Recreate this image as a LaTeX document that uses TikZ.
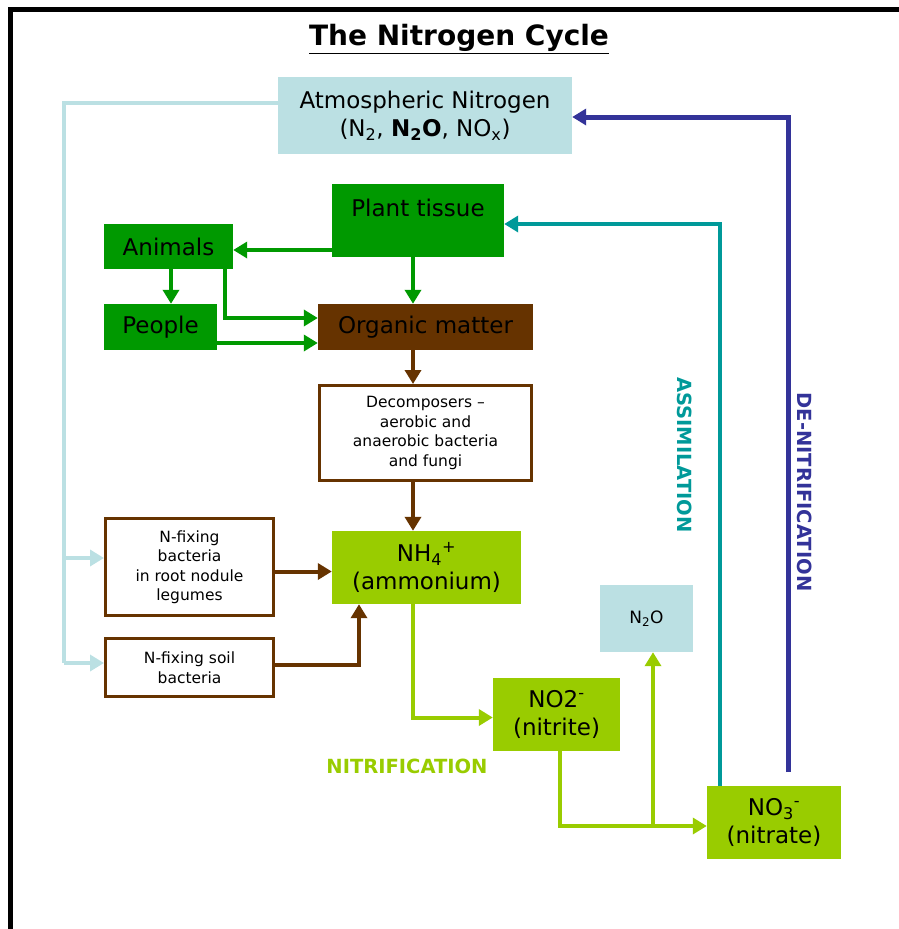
\documentclass[tikz,border=0pt]{standalone}
\usepackage{fontspec}
\setmainfont{DejaVu Sans}
\usepackage{tikz}
\usetikzlibrary{arrows.meta}

\definecolor{leaf}{HTML}{009900}
\definecolor{soil}{HTML}{663300}
\definecolor{lime}{HTML}{99CC00}
\definecolor{sky}{HTML}{BBE0E3}
\definecolor{teal}{HTML}{009999}
\definecolor{navy}{HTML}{333399}

\tikzset{
  box/.style={inner sep=0pt, align=center, font=\fontsize{23}{28.5}\selectfont},
  whitebox/.style={box, draw=soil, line width=3pt, fill=white, font=\fontsize{15.5}{19.5}\selectfont},
  link/.style={line width=4pt, -{Triangle[length=14pt,width=16pt]}},
  procname/.style={font=\bfseries\fontsize{19.5}{22}\selectfont}
}

\begin{document}
\begin{tikzpicture}[x=1pt, y=-1pt]
\useasboundingbox (0,0) rectangle (899,929);
\draw[line width=5pt] (10.5,929) -- (10.5,9.5) -- (899,9.5);
\node (title) at (459,39) {\fontsize{28}{32}\selectfont\bfseries\underline{The Nitrogen Cycle}};

% boxes
\node[box, fill=sky, minimum width=294, minimum height=77] (atm) at (425,115.5)
  {Atmospheric Nitrogen\\(N\textsubscript{2}, \textbf{N\textsubscript{2}O}, NO\textsubscript{x})};
\node[box, fill=leaf, minimum width=172, minimum height=73, text depth=25pt] (plant) at (418,220.5) {Plant tissue};
\node[box, fill=leaf, minimum width=129, minimum height=45] (animals) at (168.5,246.5) {Animals};
\node[box, fill=leaf, minimum width=113, minimum height=46] (people) at (160.5,327) {People};
\node[box, fill=soil, minimum width=215, minimum height=46] (organic) at (425.5,327) {Organic matter};
\node[whitebox, minimum width=212, minimum height=95] (decomp) at (425.5,433)
  {Decomposers --\\aerobic and\\anaerobic bacteria\\and fungi};
\node[box, fill=lime, minimum width=189, minimum height=73] (nh4) at (426.5,567.5) {NH\textsubscript{4}\textsuperscript{+}\\(ammonium)};
\node[whitebox, minimum width=168, minimum height=97] (nfixb) at (189.5,567)
  {N-fixing\\bacteria\\in root nodule\\legumes};
\node[whitebox, minimum width=168, minimum height=58] (nfixs) at (189.5,667.5) {N-fixing soil\\bacteria};
\node[box, fill=lime, minimum width=127, minimum height=73] (no2) at (556.5,714.5) {NO2\textsuperscript{-}\\(nitrite)};
\node[box, fill=sky, minimum width=93, minimum height=67, font=\fontsize{17}{20}\selectfont] (n2o) at (646.5,618.5) {N\textsubscript{2}O};
\node[box, fill=lime, minimum width=134, minimum height=73] (no3) at (774,822.5) {NO\textsubscript{3}\textsuperscript{-}\\(nitrate)};

% process names
\node[procname, text=lime] (nitri) at (407,766) {NITRIFICATION};
\node[procname, text=teal, rotate=-90] (assim) at (685,455) {ASSIMILATION};
\node[procname, text=navy, rotate=-90] (denit) at (805,492) {DE-NITRIFICATION};

% fixing from the air
\coordinate (air) at (64,103);
\coordinate (airlow) at (64,663);
\draw[sky, line width=4pt] ([yshift=12.5pt]atm.west) -- (air) -- (airlow);
\draw[link, sky] (airlow |- 0,558) -- ([yshift=9pt]nfixb.west);
\draw[link, sky] (airlow) -- ([yshift=4.5pt]nfixs.west);

% return paths
\coordinate (dn) at (788,772);
\draw[link, navy, line width=5pt] (dn) |- ([yshift=-1.5pt]atm.east);
\draw[link, teal] ([xshift=-54pt]no3.north) |- ([yshift=-3.5pt]plant.east);

% food chain
\draw[link, leaf] ([yshift=-29.5pt]plant.west) -- ([yshift=-29.5pt]plant.west -| animals.east);
\draw[link, leaf] ([xshift=-5pt]plant.south) -- ([xshift=-5pt]plant.south |- organic.north);
\draw[link, leaf] ([xshift=2.5pt]animals.south) -- ([xshift=2.5pt]animals.south |- people.north);
\draw[link, leaf] ([xshift=56pt]animals.south) |- ([yshift=9pt]organic.west);
\draw[link, leaf] ([yshift=-16pt]people.east) -- ([yshift=-16pt]people.east -| organic.west);

% decay
\draw[link, soil] ([xshift=-12.5pt]organic.south) -- ([xshift=-12.5pt]organic.south |- decomp.north);
\draw[link, soil] ([xshift=-12.5pt]decomp.south) -- ([xshift=-12.5pt]decomp.south |- nh4.north);
\draw[link, soil] ([yshift=-4.5pt]nfixb.east) -- ([yshift=-4.5pt]nfixb.east -| nh4.west);
\draw[link, soil] ([yshift=2.5pt]nfixs.east) -| ([xshift=-67.5pt]nh4.south);

% nitrification
\coordinate (fork) at (653,826);
\draw[link, lime] ([xshift=-13.5pt]nh4.south) |- ([yshift=-3pt]no2.west);
\draw[link, lime] ([xshift=3pt]no2.south) |- ([yshift=-3.5pt]no3.west);
\draw[link, lime] (fork) -- (fork |- n2o.south);
\end{tikzpicture}
\end{document}
